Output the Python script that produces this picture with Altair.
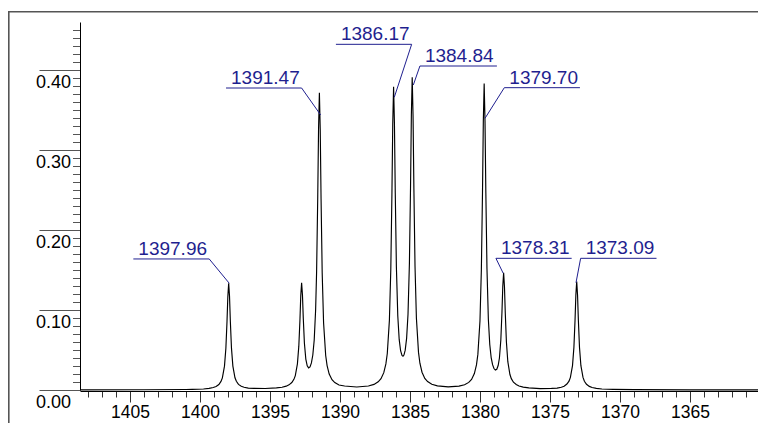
import altair as alt
import pandas as pd

# ---- spectrum trace (x in axis units, y intensity) ----
freq = [
    1408.57, 1404.00, 1401.00, 1400.55, 1399.75, 1399.35, 1399.05, 1398.85, 1398.65, 1398.50,
    1398.40, 1398.25, 1398.15, 1398.07, 1398.01, 1397.95, 1397.89, 1397.83, 1397.75, 1397.65,
    1397.50, 1397.40, 1397.25, 1397.05, 1396.85, 1396.55, 1396.15, 1395.35, 1394.54, 1394.14,
    1393.84, 1393.64, 1393.44, 1393.29, 1393.19, 1393.04, 1392.94, 1392.86, 1392.80, 1392.74,
    1392.68, 1392.62, 1392.54, 1392.44, 1392.34, 1392.24, 1392.14, 1392.04, 1391.94, 1391.84,
    1391.74, 1391.67, 1391.59, 1391.53, 1391.47, 1391.41, 1391.35, 1391.27, 1391.17, 1391.02,
    1390.92, 1390.77, 1390.57, 1390.37, 1390.07, 1389.67, 1388.80, 1387.97, 1387.57, 1387.27,
    1387.07, 1386.87, 1386.72, 1386.62, 1386.47, 1386.37, 1386.29, 1386.23, 1386.17, 1386.11,
    1386.05, 1385.97, 1385.87, 1385.77, 1385.67, 1385.57, 1385.50, 1385.43, 1385.34, 1385.24,
    1385.14, 1385.04, 1384.96, 1384.90, 1384.84, 1384.78, 1384.72, 1384.64, 1384.54, 1384.39,
    1384.29, 1384.14, 1383.94, 1383.74, 1383.44, 1383.04, 1382.27, 1381.50, 1381.10, 1380.80,
    1380.60, 1380.40, 1380.25, 1380.15, 1380.00, 1379.90, 1379.82, 1379.76, 1379.70, 1379.64,
    1379.58, 1379.50, 1379.40, 1379.30, 1379.20, 1379.10, 1379.00, 1378.90, 1378.80, 1378.70,
    1378.61, 1378.51, 1378.43, 1378.37, 1378.31, 1378.25, 1378.19, 1378.11, 1378.01, 1377.86,
    1377.76, 1377.61, 1377.41, 1377.21, 1376.91, 1376.51, 1375.70, 1374.89, 1374.49, 1374.19,
    1373.99, 1373.79, 1373.64, 1373.54, 1373.39, 1373.29, 1373.21, 1373.15, 1373.09, 1373.03,
    1372.97, 1372.89, 1372.79, 1372.64, 1372.54, 1372.39, 1372.19, 1371.99, 1371.69, 1371.29,
    1370.49, 1369.00, 1365.00, 1360.14,
]
intensity = [
    0.0002, 0.0003, 0.0006, 0.0008, 0.0013, 0.0020, 0.0031, 0.0044, 0.0069, 0.0107,
    0.0152, 0.0298, 0.0522, 0.0854, 0.1169, 0.1334, 0.1170, 0.0855, 0.0523, 0.0299,
    0.0153, 0.0109, 0.0070, 0.0046, 0.0035, 0.0024, 0.0020, 0.0019, 0.0026, 0.0034,
    0.0048, 0.0064, 0.0093, 0.0133, 0.0180, 0.0327, 0.0548, 0.0872, 0.1180, 0.1340,
    0.1190, 0.0894, 0.0585, 0.0386, 0.0302, 0.0277, 0.0289, 0.0338, 0.0437, 0.0625,
    0.0996, 0.1473, 0.2392, 0.3263, 0.3715, 0.3259, 0.2385, 0.1462, 0.0837, 0.0431,
    0.0305, 0.0199, 0.0128, 0.0093, 0.0063, 0.0050, 0.0037, 0.0050, 0.0070, 0.0102,
    0.0141, 0.0217, 0.0326, 0.0456, 0.0870, 0.1504, 0.2441, 0.3328, 0.3790, 0.3337,
    0.2460, 0.1538, 0.0924, 0.0632, 0.0491, 0.0431, 0.0422, 0.0437, 0.0498, 0.0645,
    0.0948, 0.1582, 0.2535, 0.3440, 0.3910, 0.3431, 0.2516, 0.1549, 0.0897, 0.0470,
    0.0335, 0.0222, 0.0145, 0.0105, 0.0072, 0.0052, 0.0040, 0.0048, 0.0065, 0.0095,
    0.0132, 0.0206, 0.0314, 0.0445, 0.0863, 0.1508, 0.2461, 0.3364, 0.3832, 0.3367,
    0.2467, 0.1519, 0.0881, 0.0568, 0.0405, 0.0316, 0.0268, 0.0250, 0.0259, 0.0306,
    0.0400, 0.0625, 0.0969, 0.1297, 0.1466, 0.1290, 0.0952, 0.0596, 0.0354, 0.0193,
    0.0142, 0.0097, 0.0068, 0.0050, 0.0036, 0.0026, 0.0018, 0.0020, 0.0023, 0.0035,
    0.0047, 0.0074, 0.0111, 0.0158, 0.0305, 0.0533, 0.0870, 0.1189, 0.1355, 0.1188,
    0.0869, 0.0532, 0.0304, 0.0157, 0.0109, 0.0071, 0.0045, 0.0031, 0.0020, 0.0013,
    0.0008, 0.0004, 0.0002, 0.0001,
]

# ---- peak labels and their leader layout (data units) ----
peak_labels = ["1397.96", "1391.47", "1386.17", "1384.84", "1379.70", "1378.31", "1373.09"]
label_left = [1404.76, 1398.14, 1390.29, 1384.29, 1378.26, 1378.86, 1372.81]
label_right = [1399.34, 1392.74, 1384.88, 1378.79, 1372.86, 1373.45, 1367.39]
label_level = [0.1638, 0.3775, 0.4321, 0.4050, 0.3779, 0.1646, 0.1646]
tip_x = [1397.91, 1391.38, 1386.12, 1384.76, 1379.64, 1378.34, 1373.14]
tip_y = [0.1334, 0.3438, 0.3659, 0.3813, 0.3396, 0.1459, 0.1341]
leader_side = ["right", "right", "right", "left", "left", "left", "left"]

x_ticks = list(range(1361, 1409))
y_ticks = [round(i * 0.01, 2) for i in range(46)]

FONT = "Liberation Sans"
NAVY = "#1f1f8f"

spec_df = pd.DataFrame({"freq": freq, "intensity": intensity})

rows = []
for i, lab in enumerate(peak_labels):
    under = [(label_left[i], label_level[i]), (label_right[i], label_level[i])]
    tip = (tip_x[i], tip_y[i])
    pts = under + [tip] if leader_side[i] == "right" else [tip] + under
    for k, (xx, yy) in enumerate(pts):
        rows.append({"label": lab, "k": k, "freq": xx, "intensity": yy})
leader_df = pd.DataFrame(rows)
text_df = pd.DataFrame({"label": peak_labels, "freq": label_left, "intensity": label_level})

x_axis = alt.Axis(
    values=x_ticks,
    tickSize={"condition": {"test": "datum.value % 5 === 0", "value": 11}, "value": 6},
    labelExpr="datum.value % 5 === 0 ? format(datum.value, 'd') : ''",
    labelPadding=1.6,
    labelFont=FONT, labelFontSize=17.5, labelColor="black",
    labelFlush=False, labelOverlap=False,
    tickColor="#333", tickWidth=1,
    domainColor="black", domainWidth=1,
    offset=1, grid=False,
)
y_axis = alt.Axis(
    values=y_ticks,
    tickSize={"condition": {"test": "round(datum.value * 100) % 10 === 0", "value": 41}, "value": 7.5},
    labelExpr="round(datum.value * 100) % 10 === 0 ? format(datum.value, '.2f') : ''",
    labelPadding=-31.5, labelBaseline="top", labelOffset=3.2, labelAlign="right",
    labelFont=FONT, labelFontSize=18, labelColor="black",
    labelFlush=False, labelOverlap=False,
    tickColor="#555", tickWidth=1,
    domainColor="black", domainWidth=1,
    grid=False,
)

x_scale = alt.Scale(domain=[1408.57, 1360.14], nice=False, zero=False)
y_scale = alt.Scale(domain=[0, 0.46], nice=False, zero=False)

x_enc = alt.X("freq:Q", scale=x_scale, axis=x_axis, title=None)
y_enc = alt.Y("intensity:Q", scale=y_scale, axis=y_axis, title=None)

spectrum = alt.Chart(spec_df).mark_line(color="black", strokeWidth=1.15).encode(x=x_enc, y=y_enc)

leaders = alt.Chart(leader_df).mark_line(color=NAVY, strokeWidth=1).encode(
    x=x_enc, y=y_enc, detail="label:N", order="k:Q"
)

texts = alt.Chart(text_df).mark_text(
    align="left", baseline="alphabetic", dx=5, dy=-4,
    font=FONT, fontSize=19, color=NAVY,
).encode(x=x_enc, y=y_enc, text="label:N")

one = alt.Data(values=[{"a": 1}])
frame_left = alt.Chart(one).mark_rule(color="#555", strokeWidth=1.6).encode(
    x=alt.value(-71.2), y=alt.value(-10.3), y2=alt.value(401)
)
frame_top = alt.Chart(one).mark_rule(color="#555", strokeWidth=1.6).encode(
    y=alt.value(-10.3), x=alt.value(-72), x2=alt.value(678)
)

chart = alt.layer(spectrum, leaders, texts, frame_left, frame_top).properties(
    width=678, height=368,
    autosize="none",
    padding={"left": 72, "top": 14, "right": 0, "bottom": 33},
    background="white",
).configure_view(strokeWidth=0)

chart.save("out.html", embed_options={"renderer": "svg", "actions": False})
